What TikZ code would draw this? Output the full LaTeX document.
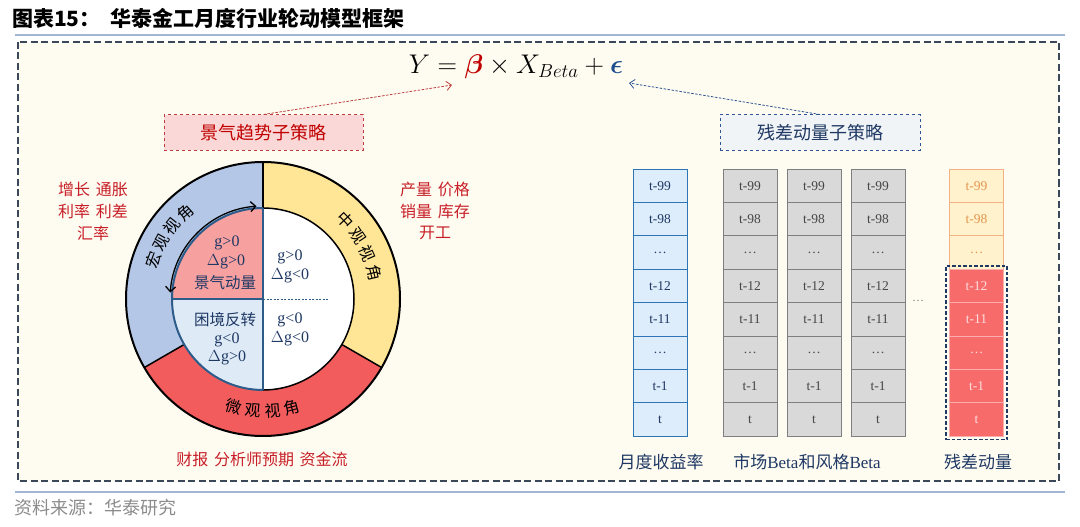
\documentclass[tikz,border=0pt]{standalone}
\usepackage{fix-cm}
\usepackage{amsmath,bm}
\usepackage{fontspec}
\setmainfont{Liberation Serif}
\newfontfamily\cjk{Noto Sans CJK SC}
\usetikzlibrary{arrows.meta,calc,fit}
\newcommand{\myfs}[1]{\fontsize{#1}{#1}\selectfont}
\definecolor{cream}{RGB}{254,252,241}
\definecolor{frameC}{RGB}{59,72,90}
\definecolor{lineC}{RGB}{160,182,210}
\definecolor{redT}{RGB}{192,0,0}
\definecolor{labRed}{RGB}{200,30,40}
\definecolor{navy}{RGB}{31,56,100}
\definecolor{epsBlue}{RGB}{31,78,140}
\definecolor{ringBlue}{RGB}{180,199,231}
\definecolor{ringYellow}{RGB}{255,229,150}
\definecolor{ringRed}{RGB}{242,92,92}
\definecolor{pinkQ}{RGB}{246,160,160}
\definecolor{lbQ}{RGB}{222,235,247}
\definecolor{qBlue}{RGB}{46,92,138}
\definecolor{cellBlueF}{RGB}{221,237,251}
\definecolor{cellBlueD}{RGB}{46,117,182}
\definecolor{grayF}{RGB}{217,217,217}
\definecolor{grayD}{RGB}{127,127,127}
\definecolor{grayT}{RGB}{70,70,70}
\definecolor{yelF}{RGB}{255,242,204}
\definecolor{orD}{RGB}{244,177,131}
\definecolor{orT}{RGB}{226,150,80}
\definecolor{redF}{RGB}{247,107,107}
\definecolor{redLine}{RGB}{250,175,175}
\definecolor{redCellT}{RGB}{253,222,222}
\definecolor{pinkBox}{RGB}{251,216,216}
\definecolor{boxRedD}{RGB}{192,60,60}
\definecolor{boxBlueF}{RGB}{240,244,247}
\definecolor{boxBlueD}{RGB}{47,85,151}
\definecolor{srcGray}{RGB}{140,140,140}
\tikzset{
  ringtxt/.style={font=\cjk\myfs{16}, inner sep=0pt},
  redlab/.style={font=\cjk\myfs{16}, text=labRed, align=center},
  innertxt/.style={font=\myfs{16}, text=navy, align=center, inner sep=0pt},
  cellbase/.style={minimum width=54, minimum height=33.4, inner sep=0pt, font=\myfs{13.5}},
  cellblue/.style={cellbase, draw=cellBlueD, fill=cellBlueF, text=navy, line width=0.9},
  cellgray/.style={cellbase, draw=grayD, fill=grayF, text=grayT, line width=0.9},
  cellyel/.style={cellbase, draw=orD, fill=yelF, text=orT, line width=0.9},
  cellred/.style={cellbase, draw=redLine, fill=redF, text=redCellT, line width=0.9},
  collab/.style={font=\myfs{17}, text=navy},
  redarrow/.style={draw=boxRedD, line width=0.8, dash pattern=on 2.5 off 1.5, -{Straight Barb[length=5,width=9]}},
  bluearrow/.style={draw=boxBlueD, line width=0.8, dash pattern=on 2.5 off 1.5, -{Straight Barb[length=5,width=9]}},
}
\begin{document}
\begin{tikzpicture}[x=1pt,y=1pt]
\useasboundingbox (0,0) rectangle (1080,-527);
\fill[white] (0,0) rectangle (1080,-527);
% title
\node[anchor=west, font=\cjk\bfseries\myfs{21}, inner sep=0pt] (title) at (12,-18) {图表15：\hspace{0.48em}华泰金工月度行业轮动模型框架};
\draw[lineC, line width=2] (15,-35) -- (1065,-35);
% frame
\draw[frameC, line width=2.2, dash pattern=on 7 off 3.5, fill=cream] (18,-42) rectangle (1059,-481);
\draw[lineC, line width=1.5] (15,-492) -- (1065,-492);
\node[anchor=west, font=\cjk\myfs{18}, text=srcGray, inner sep=0pt] (src) at (14,-508) {资料来源：华泰研究};
% formula
\node[font=\myfs{27}, inner sep=0pt] (eq) at (516,-67) {$Y = {\color{redT}\bm{\beta}} \times X_{Beta} + {\color{epsBlue}\bm{\epsilon}}$};
\coordinate (betaTip) at (452,-85);
\coordinate (epsTip) at (629,-83);
% sub-strategy boxes
\node[draw=boxRedD, dashed, line width=1, fill=pinkBox, minimum width=199, minimum height=35, font=\cjk\myfs{18}, text=redT] (rbox) at (263.5,-132.5) {景气趋势子策略};
\node[draw=boxBlueD, dashed, line width=1, fill=boxBlueF, minimum width=200, minimum height=35, font=\cjk\myfs{18}, text=navy] (bbox) at (820,-132.5) {残差动量子策略};
\draw[redarrow] (rbox.north) -- (betaTip);
\draw[bluearrow] (bbox.north) -- (epsTip);
% ring
\coordinate (C) at (263,-299);
\fill[ringBlue] ($(C)+(90:137)$) arc (90:210:137) -- ($(C)+(210:91)$) arc (210:90:91) -- cycle;
\fill[ringRed] ($(C)+(210:137)$) arc (210:330:137) -- ($(C)+(330:91)$) arc (330:210:91) -- cycle;
\fill[ringYellow] ($(C)+(330:137)$) arc (330:450:137) -- ($(C)+(90:91)$) arc (90:-30:91) -- cycle;
\fill[pinkQ] (C) -- ($(C)+(180:91)$) arc (180:90:91) -- cycle;
\fill[lbQ] (C) -- ($(C)+(180:91)$) arc (180:270:91) -- cycle;
\fill[white] (C) -- ($(C)+(270:91)$) arc (-90:90:91) -- cycle;
\draw[black, line width=2] (C) circle (137);
\draw[black, line width=1.5] ($(C)+(90:91)$) arc (90:-90:91);
\foreach \a in {90,210,330} \draw[black, line width=1.5] ($(C)+(\a:91)$) -- ($(C)+(\a:137)$);
\draw[qBlue, line width=1.5] ($(C)+(90:91)$) -- ($(C)+(270:91)$);
\draw[qBlue, line width=1.5] ($(C)+(180:91)$) -- (C);
\draw[qBlue, line width=0.6, dash pattern=on 2 off 1.5] (C) -- ++(65,0);
\draw[qBlue, line width=2] ($(C)+(90:91)$) arc (90:270:91);
\draw[black, line width=1.3, {Straight Barb[length=5,width=10]}-{Straight Barb[length=5,width=10]}] ($(C)+(176:93)$) arc (176:94:93);
% ring texts
\foreach \ch/\a [count=\k] in {宏/160.5,观/151,视/141.5,角/132}
  \node[ringtxt, rotate=\a-90] (mac\k) at ($(C)+(\a:116)$) {\ch};
\foreach \ch/\a [count=\k] in {中/43.5,观/33.5,视/23.5,角/13.5}
  \node[ringtxt, rotate=\a-90] (mes\k) at ($(C)+(\a:114)$) {\ch};
\foreach \ch/\a [count=\k] in {微/255,观/265,视/275,角/285}
  \node[ringtxt, rotate=\a+90] (mic\k) at ($(C)+(\a:112)$) {\ch};
% inner texts
\node[innertxt] (q1a) at (227,-243) {g>0};
\node[innertxt] (q1b) at (226,-262) {$\Delta$g>0};
\node[innertxt, font=\cjk\myfs{15.5}] (q1c) at (225,-283) {景气动量};
\node[innertxt] (q2a) at (290,-257) {g>0};
\node[innertxt] (q2b) at (290,-276) {$\Delta$g<0};
\node[innertxt, font=\cjk\myfs{15.5}] (q3a) at (225,-320) {困境反转};
\node[innertxt] (q3b) at (227,-340) {g<0};
\node[innertxt] (q3c) at (227,-358) {$\Delta$g>0};
\node[innertxt] (q4a) at (290,-320) {g<0};
\node[innertxt] (q4b) at (290,-339) {$\Delta$g<0};
% red side labels
\node[redlab] (macL1) at (93,-189) {增长\hspace{0.35em}通胀};
\node[redlab] (macL2) at (93,-211) {利率\hspace{0.35em}利差};
\node[redlab] (macL3) at (93,-233) {汇率};
\node[redlab] (mesL1) at (435,-189) {产量\hspace{0.35em}价格};
\node[redlab] (mesL2) at (435,-211) {销量\hspace{0.35em}库存};
\node[redlab] (mesL3) at (435,-233) {开工};
\node[redlab] (micL) at (262,-459) {财报\hspace{0.35em}分析师预期\hspace{0.35em}资金流};
% columns
\foreach \lab [count=\i] in {t-99,t-98,…,t-12,t-11,…,t-1,t} {
  \node[cellblue] (b\i) at (660,{-185.7-(\i-1)*33.4}) {\lab};
  \node[cellgray] (ga\i) at (750,{-185.7-(\i-1)*33.4}) {\lab};
  \node[cellgray] (gb\i) at (814,{-185.7-(\i-1)*33.4}) {\lab};
  \node[cellgray] (gc\i) at (878,{-185.7-(\i-1)*33.4}) {\lab};
}
\foreach \lab [count=\i] in {t-99,t-98,…}
  \node[cellyel] (r\i) at (976.5,{-185.7-(\i-1)*33.4}) {\lab};
\foreach \lab [count=\i from 4] in {t-12,t-11,…,t-1,t}
  \node[cellred] (r\i) at (976.5,{-185.7-(\i-1)*33.4}) {\lab};
\node[draw=navy, line width=1.6, dash pattern=on 3.5 off 2, fit=(r4)(r8), inner sep=3pt] (resbox) {};
\node[font=\myfs{12}, text=grayD] (gdots) at (918,-301) {…};
\node[collab, font=\cjk\myfs{17}] (lab1) at (661,-462) {月度收益率};
\node[collab] (lab2) at (807,-462) {{\cjk 市场}Beta{\cjk 和风格}Beta};
\node[collab, font=\cjk\myfs{17}] (lab3) at (978,-462) {残差动量};
\end{tikzpicture}
\end{document}
